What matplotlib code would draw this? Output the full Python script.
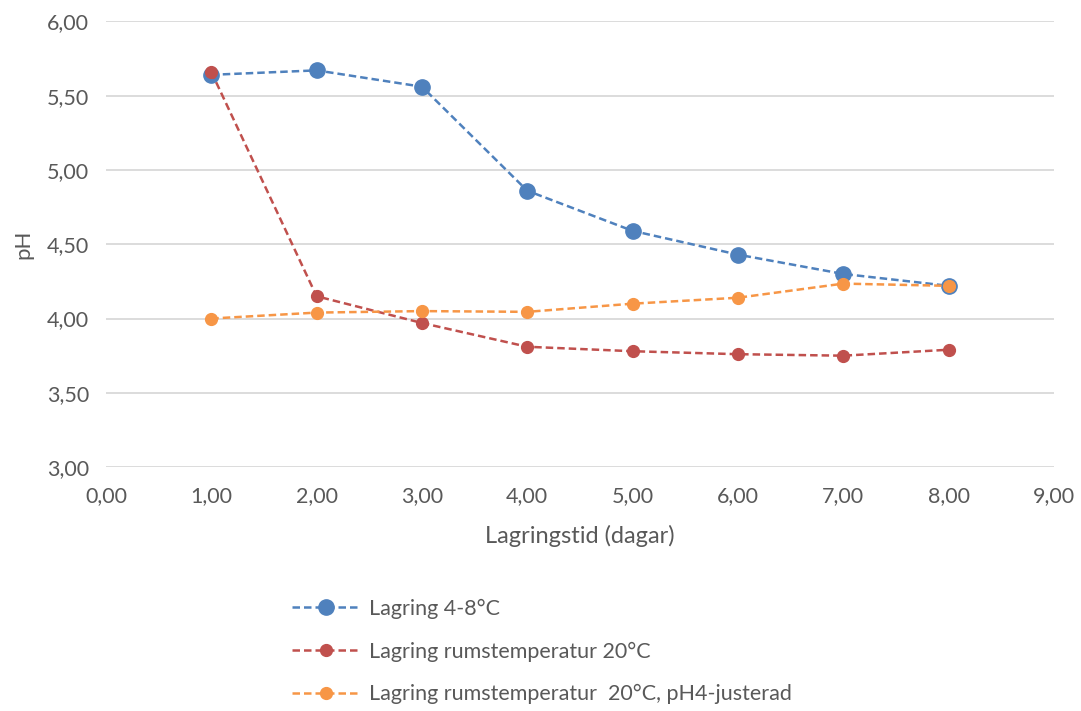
import matplotlib.pyplot as plt
from matplotlib.ticker import FuncFormatter

plt.rcParams['font.family'] = ['Lato', 'DejaVu Sans']

# Lagringstid (dagar)
dagar = [1, 2, 3, 4, 5, 6, 7, 8]

# pH-värden
ph_kyl = [5.64, 5.67, 5.56, 4.86, 4.59, 4.43, 4.30, 4.22]
ph_rum = [5.66, 4.15, 3.97, 3.81, 3.78, 3.76, 3.75, 3.79]
ph_rum_justerad = [4.00, 4.04, 4.05, 4.045, 4.10, 4.14, 4.235, 4.22]

labels = ["Lagring 4-8°C",
          "Lagring rumstemperatur 20°C",
          "Lagring rumstemperatur  20°C, pH4-justerad"]

text_color = '#595959'

fig = plt.figure(figsize=(10.81, 7.11), dpi=100)
ax = fig.add_axes([0.098, 0.343, 0.877, 0.627])

ax.plot(dagar, ph_kyl, color='#4F81BD', linestyle=(0, (3, 1.6)), linewidth=1.8,
        marker='o', markersize=11, label=labels[0])
ax.plot(dagar, ph_rum, color='#C0504D', linestyle=(0, (3, 1.6)), linewidth=1.8,
        marker='o', markersize=8.5, label=labels[1])
ax.plot(dagar, ph_rum_justerad, color='#F79646', linestyle=(0, (3, 1.6)), linewidth=1.8,
        marker='o', markersize=8.5, label=labels[2])

ax.set_xlim(0, 9)
ax.set_ylim(3, 6)
ax.set_xticks(range(0, 10))
ax.set_yticks([3.0, 3.5, 4.0, 4.5, 5.0, 5.5, 6.0])
fmt = FuncFormatter(lambda v, p: f"{v:.2f}".replace('.', ','))
ax.xaxis.set_major_formatter(fmt)
ax.yaxis.set_major_formatter(fmt)

ax.grid(axis='y', color='#D9D9D9', linewidth=1.3)
ax.set_axisbelow(True)
for s in ax.spines.values():
    s.set_visible(False)
ax.tick_params(length=0, labelsize=15.5, labelcolor=text_color, pad=14)
ax.tick_params(axis='y', pad=12)

ax.set_xlabel("Lagringstid (dagar)", fontsize=17, color=text_color, labelpad=13)
ax.set_ylabel("pH", fontsize=16, color=text_color, labelpad=10)

fig.legend(loc='upper left', bbox_to_anchor=(0.262, 0.170), frameon=False,
           fontsize=15.5, labelcolor=text_color, handlelength=3.2,
           labelspacing=1.05, handletextpad=0.4, borderaxespad=0)

fig.savefig("out.png", dpi=100)
